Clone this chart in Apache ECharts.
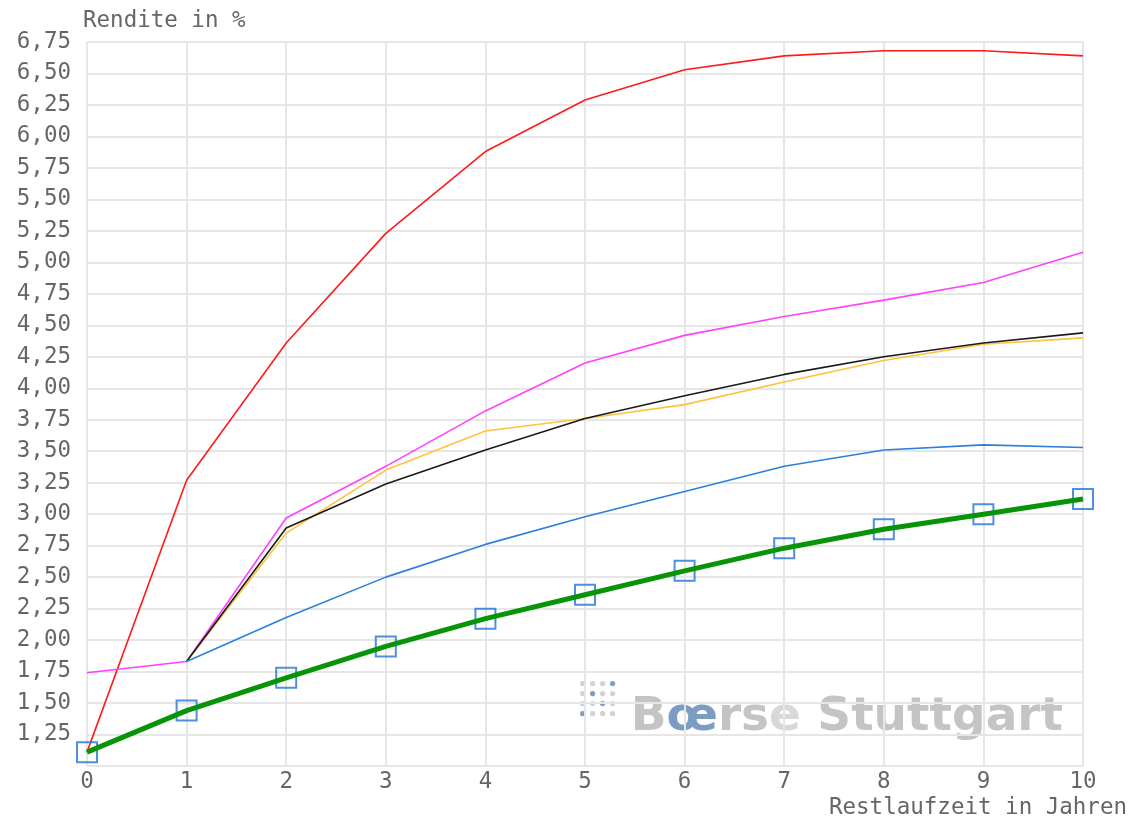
<!DOCTYPE html>
<html>
<head>
<meta charset="utf-8">
<script src="https://cdn.jsdelivr.net/npm/echarts@6/dist/echarts.min.js"></script>
<style>
    html, body {margin: 0; padding: 0; background: #fff;}
    #chartView {width: 1131px; height: 821px;}
</style>
</head>
<body>
<div id="chartView"></div>
<script>
    // Restlaufzeit (Jahre)
    var years = [0, 1, 2, 3, 4, 5, 6, 7, 8, 9, 10];
    var yearsFrom1 = [1, 2, 3, 4, 5, 6, 7, 8, 9, 10];

    // Renditen in %
    var redValues = [1.11, 3.27, 4.36, 5.23, 5.88, 6.29, 6.53, 6.64, 6.68, 6.68, 6.64];
    var magentaValues = [1.74, 1.83, 2.97, 3.38, 3.82, 4.20, 4.42, 4.57, 4.70, 4.84, 5.08];
    var orangeValues = [1.83, 2.85, 3.35, 3.66, 3.76, 3.87, 4.05, 4.22, 4.35, 4.40];
    var blackValues = [1.83, 2.89, 3.24, 3.51, 3.76, 3.94, 4.11, 4.25, 4.36, 4.44];
    var blueValues = [1.83, 2.18, 2.50, 2.76, 2.98, 3.18, 3.38, 3.51, 3.55, 3.53];
    var greenValues = [1.11, 1.44, 1.70, 1.95, 2.17, 2.36, 2.55, 2.73, 2.88, 3.00, 3.12];

    var theFont = 'DejaVu Sans Mono';
    var theTextColor = '#666666';
    var theGridColor = '#e6e6e6';

    function pairs(xs, ys) {
        return xs.map(function (x, i) {
            return [x, ys[i]];
        });
    }

    function lineSeries(name, xs, ys, color, width, z) {
        return {
            name: name,
            type: 'line',
            symbol: 'none',
            z: z || 2,
            lineStyle: {color: color, width: width},
            data: pairs(xs, ys)
        };
    }

    // Logo-Punkte (Wasserzeichen), 4x4 Raster, einige blau
    function logoDots() {
        var theBlue = {'0,3': 1, '1,1': 1, '2,2': 1, '3,0': 1};
        var theDots = [];
        for (var r = 0; r < 4; r++) {
            for (var c = 0; c < 4; c++) {
                theDots.push({
                    type: 'circle',
                    shape: {cx: c * 10, cy: r * 10, r: 2.6},
                    style: {fill: theBlue[r + ',' + c] ? '#7f9dc6' : '#d2d2d2'}
                });
            }
        }
        return {type: 'group', left: 580, top: 681, z: 0, children: theDots};
    }

    var chartView = echarts.init(document.getElementById('chartView'));

    var option = {
        animation: false,
        grid: {
            left: 87,
            right: 48,
            top: 42,
            bottom: 55,
            containLabel: false
        },
        xAxis: {
            type: 'value',
            min: 0,
            max: 10,
            interval: 1,
            name: 'Restlaufzeit in Jahren',
            nameLocation: 'end',
            nameGap: 0,
            nameTextStyle: {
                color: theTextColor,
                fontFamily: theFont,
                fontSize: 22.5,
                align: 'right',
                verticalAlign: 'top',
                padding: [31, -44, 0, 0]
            },
            axisLine: {show: false},
            axisTick: {show: false},
            axisLabel: {
                color: theTextColor,
                fontFamily: theFont,
                fontSize: 22.5,
                margin: 5
            },
            splitLine: {show: true, lineStyle: {color: theGridColor, width: 2}}
        },
        yAxis: {
            type: 'value',
            min: 1,
            max: 6.75,
            interval: 0.25,
            name: 'Rendite in %',
            nameLocation: 'end',
            nameGap: 9,
            nameTextStyle: {
                color: theTextColor,
                fontFamily: theFont,
                fontSize: 22.5,
                align: 'left',
                padding: [0, 0, 0, -4]
            },
            axisLine: {show: false},
            axisTick: {show: false},
            axisLabel: {
                color: theTextColor,
                fontFamily: theFont,
                fontSize: 22.5,
                margin: 16,
                formatter: function (value) {
                    if (value <= 1) {
                        return '';
                    }
                    return value.toFixed(2).replace('.', ',');
                }
            },
            splitLine: {show: true, lineStyle: {color: theGridColor, width: 2}}
        },
        graphic: [
            logoDots(),
            {
                type: 'text',
                right: 68,
                bottom: 80,
                z: 0,
                style: {
                    text: '{g|B}{b|œ}{g|rs}{l|e}{g| Stuttgart}',
                    rich: {
                        g: {fill: '#c4c4c4', font: 'bold 47px "DejaVu Sans"'},
                        b: {fill: '#7c9cc4', font: 'bold 47px "DejaVu Sans"'},
                        l: {fill: '#d8d8d8', font: 'bold 47px "DejaVu Sans"'}
                    }
                }
            }
        ],
        series: [
            lineSeries('rot', years, redValues, '#ff1a1a', 1.6),
            lineSeries('magenta', years, magentaValues, '#ff40ff', 1.6),
            lineSeries('orange', yearsFrom1, orangeValues, '#ffc23a', 1.6),
            lineSeries('schwarz', yearsFrom1, blackValues, '#1a1a1a', 1.6),
            lineSeries('blau', yearsFrom1, blueValues, '#2c7fdc', 1.6),
            {
                name: 'punkte',
                type: 'scatter',
                symbol: 'rect',
                symbolSize: 20,
                z: 3,
                itemStyle: {color: 'rgba(0,0,0,0)', borderColor: '#1f74d6', borderWidth: 2},
                data: pairs(years, greenValues)
            },
            lineSeries('gruen', years, greenValues, '#079407', 5, 4)
        ]
    };

    chartView.setOption(option);
</script>
</body>
</html>
